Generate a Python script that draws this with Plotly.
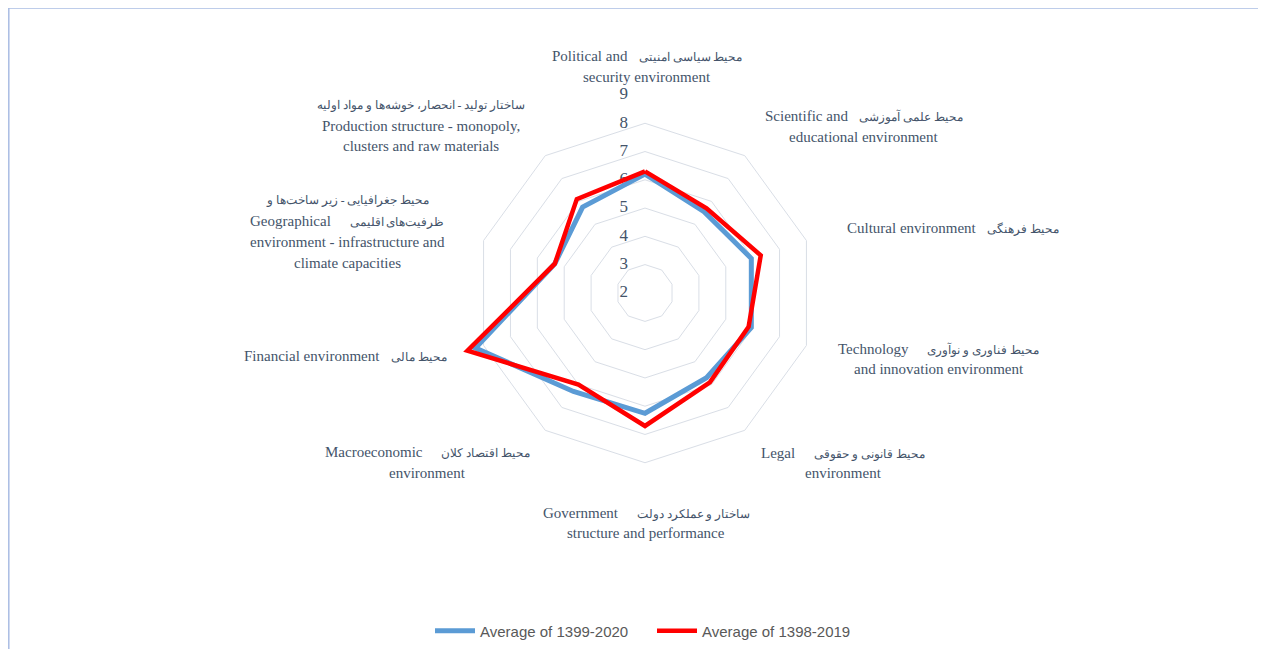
import plotly.graph_objects as go

# page offset (browser body margin) compensation
OFF = 8
W, H = 1266 - OFF, 649 - OFF

categories = [
    "Political and security environment",
    "Scientific and educational environment",
    "Cultural environment",
    "Technology and innovation environment",
    "Legal environment",
    "Government structure and performance",
    "Macroeconomic environment",
    "Financial environment",
    "Geographical environment - infrastructure and climate capacities",
    "Production structure - monopoly, clusters and raw materials",
]
avg_1399_2020 = [6.2, 5.55, 5.95, 5.95, 5.7, 6.25, 6.3, 8.3, 5.35, 5.75]
avg_1398_2019 = [6.3, 5.7, 6.3, 5.85, 5.9, 6.7, 6.0, 8.6, 5.35, 6.1]
radial_ticks = [2, 3, 4, 5, 6, 7, 8, 9]
series_names = ["Average of 1399-2020", "Average of 1398-2019"]

NB = "\u00a0"


def fa(t):
    return '<span style="font-size:11.5px">' + t + "</span>"


label_lines = [
    ["Political and" + NB * 3 + fa("محیط سیاسی امنیتی"), "security environment"],
    ["Scientific and" + NB * 3 + fa("محیط علمی آموزشی"), "educational environment"],
    ["Cultural environment" + NB * 3 + fa("محیط فرهنگی")],
    ["Technology" + NB * 5 + fa("محیط فناوری و نوآوری"), "and innovation environment"],
    ["Legal" + NB * 5 + fa("محیط قانونی و حقوقی"), "environment"],
    ["Government" + NB * 5 + fa("ساختار و عملکرد دولت"), "structure and performance"],
    ["Macroeconomic" + NB * 5 + fa("محیط اقتصاد کلان"), "environment"],
    ["Financial environment" + NB * 3 + fa("محیط مالی")],
    [fa("محیط جغرافیایی - زیر ساخت\u200cها و"), "Geographical" + NB * 5 + fa("ظرفیت\u200cهای اقلیمی"),
     "environment - infrastructure and", "climate capacities"],
    [fa("ساختار تولید - انحصار، خوشه\u200cها و مواد اولیه"), "Production structure - monopoly,",
     "clusters and raw materials"],
]
# label block anchors in page pixels: (x, first-line y, xanchor, line spacing)
label_anchor = [
    (647, 56, "center", 21),
    (864, 116, "center", 21),
    (845, 228, "left", 21),
    (939, 349, "center", 20),
    (843, 453, "center", 20),
    (646, 513, "center", 20),
    (427, 452, "center", 21),
    (449, 356, "right", 21),
    (347, 200, "center", 21),
    (421, 106, "center", 20),
]

text_color = "#44546A"
serif = "Liberation Serif, Times New Roman, DejaVu Serif, serif"


def px(x):
    return (x - OFF) / W


def py(y):
    return 1 - (y - OFF) / H


cx, cy, R = 645, 293, 198

fig = go.Figure()
# radial tick labels drawn as a text trace along the first spoke
fig.add_trace(go.Scatterpolar(
    r=radial_ticks,
    theta=[categories[0]] * len(radial_ticks),
    mode="text",
    text=[str(v) + NB * 4 for v in radial_ticks],
    textposition="middle left",
    textfont=dict(family=serif, size=17, color=text_color),
    cliponaxis=False,
    showlegend=False, hoverinfo="skip",
))
fig.add_trace(go.Scatterpolar(
    r=avg_1399_2020 + avg_1399_2020[:1],
    theta=categories + categories[:1],
    mode="lines",
    name=series_names[0],
    line=dict(color="#5B9BD5", width=5),
))
fig.add_trace(go.Scatterpolar(
    r=avg_1398_2019 + avg_1398_2019[:1],
    theta=categories + categories[:1],
    mode="lines",
    name=series_names[1],
    line=dict(color="#FF0000", width=4.5),
))

annotations = []
for lines, (x, y, xa, sp) in zip(label_lines, label_anchor):
    for i, t in enumerate(lines):
        annotations.append(dict(
            x=px(x), y=py(y + i * sp), xref="paper", yref="paper",
            text=t, showarrow=False, xanchor=xa, yanchor="middle",
            font=dict(family=serif, size=15, color=text_color),
        ))

fig.update_layout(
    width=W, height=H,
    margin=dict(l=0, r=0, t=0, b=0),
    paper_bgcolor="white",
    plot_bgcolor="white",
    polar=dict(
        domain=dict(x=[px(cx - R), px(cx + R)], y=[py(cy + R), py(cy - R)]),
        bgcolor="white",
        gridshape="linear",
        angularaxis=dict(
            categoryorder="array", categoryarray=categories,
            direction="clockwise", rotation=90,
            showticklabels=False, showgrid=False, showline=False, ticks="",
        ),
        radialaxis=dict(
            range=[1.995, 9], tickvals=radial_ticks[1:], angle=90,
            showticklabels=False,
            showline=False, ticks="", gridcolor="#D9DEE6", gridwidth=1,
        ),
    ),
    legend=dict(
        orientation="h", x=px(430), xanchor="left", y=py(631), yanchor="middle",
        font=dict(family="Liberation Sans, Arial, sans-serif", size=15, color="#595959"),
        itemwidth=40, entrywidth=167, entrywidthmode="pixels",
    ),
    annotations=annotations,
    shapes=[
        dict(type="line", xref="paper", yref="paper", x0=0, x1=1.01, y0=py(8), y1=py(8),
             line=dict(color="#A9BCE3", width=1.5)),
        dict(type="line", xref="paper", yref="paper", x0=0.8 / W, x1=0.8 / W, y0=py(8), y1=-0.01,
             line=dict(color="#A9BCE3", width=1.5)),
    ],
)

fig.write_html("out.html")
